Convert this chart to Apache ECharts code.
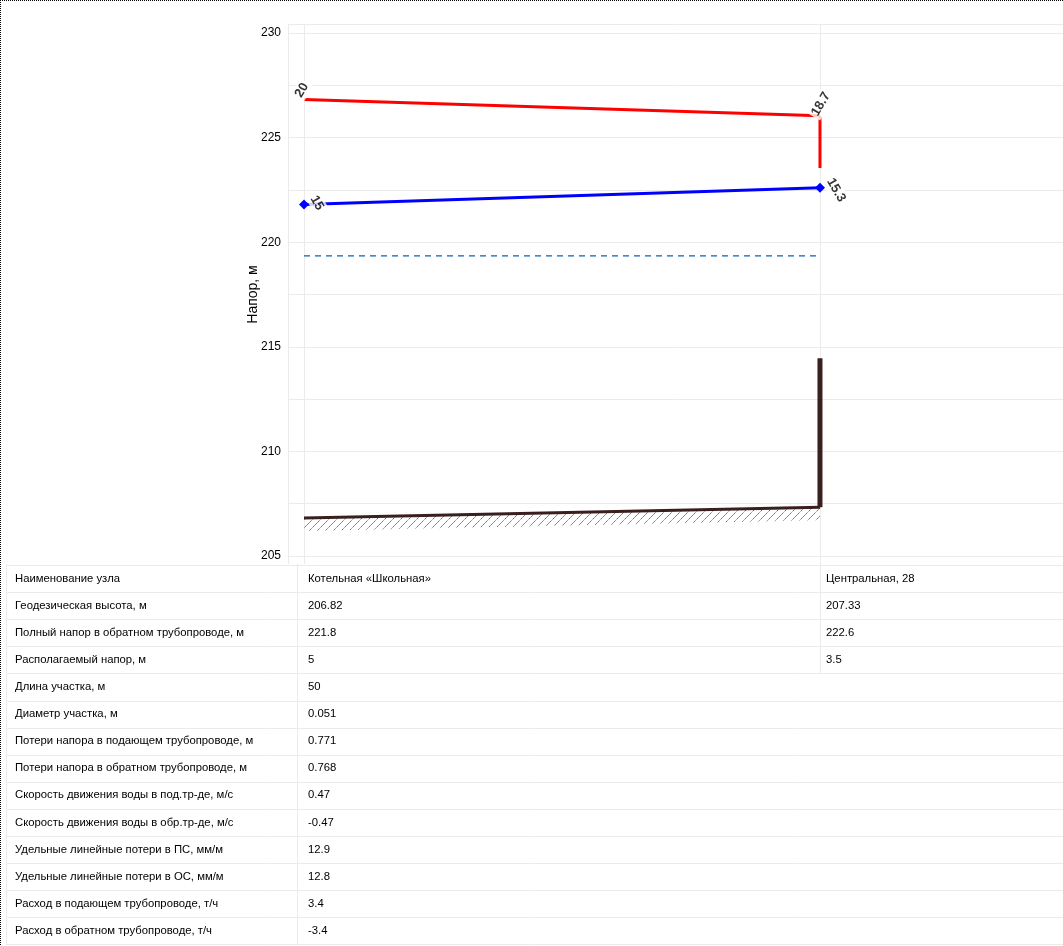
<!DOCTYPE html>
<html><head><meta charset="utf-8">
<script src="https://cdn.jsdelivr.net/npm/echarts@6/dist/echarts.min.js"></script>
<style>html,body{margin:0;padding:0;background:#fff}#c{width:1063px;height:946px}</style>
</head><body><div id="c"></div>
<script>
// ---- data ----
const nodeNames = ['Котельная «Школьная»', 'Центральная, 28'];
const nodeDist = [0, 50];
const supplyHead = [226.82, 226.05];
const returnHead = [221.8, 222.6];
const groundLevel = [206.82, 207.33];
const staticLevel = [219.35, 219.35];
const buildingTop = 214.45;
const availableBottom = 223.55;
const yTickLabels = [205, 210, 215, 220, 225, 230];
const rowLabels = [
  'Наименование узла',
  'Геодезическая высота, м',
  'Полный напор в обратном трубопроводе, м',
  'Располагаемый напор, м',
  'Длина участка, м',
  'Диаметр участка, м',
  'Потери напора в подающем трубопроводе, м',
  'Потери напора в обратном трубопроводе, м',
  'Скорость движения воды в под.тр-де, м/с',
  'Скорость движения воды в обр.тр-де, м/с',
  'Удельные линейные потери в ПС, мм/м',
  'Удельные линейные потери в ОС, мм/м',
  'Расход в подающем трубопроводе, т/ч',
  'Расход в обратном трубопроводе, т/ч'
];
const col1Values = ['Котельная «Школьная»', '206.82', '221.8', '5', '50', '0.051', '0.771', '0.768', '0.47', '-0.47', '12.9', '12.8', '3.4', '-3.4'];
const col2Values = ['Центральная, 28', '207.33', '222.6', '3.5'];

const fmt = v => String(Math.round(v * 10) / 10);
const supplyLabels = supplyHead.map((v, i) => fmt(v - groundLevel[i]));
const returnLabels = returnHead.map((v, i) => fmt(v - groundLevel[i]));

// hatch pattern
const pat = document.createElement('canvas');
pat.width = 8; pat.height = 8;
const pc = pat.getContext('2d');
pc.strokeStyle = '#2a2a2a'; pc.lineWidth = 0.8; pc.setLineDash([2, 1]);
pc.beginPath(); pc.moveTo(-1, 9); pc.lineTo(9, -1); pc.stroke();

const FONT = 'Liberation Sans, Arial, sans-serif';
const GRID = '#ebebeb';
const labelStyle = { show: true, position: 'inside', align: 'center', verticalAlign: 'middle',
  color: '#000', fontSize: 13, fontWeight: 'bold', fontFamily: FONT, backgroundColor: '#fff', padding: [1, 2] };

const chart = echarts.init(document.getElementById('c'), null, { renderer: 'canvas' });
const option = {
  animation: false,
  backgroundColor: '#fff',
  grid: { left: 288, right: 0, top: 33, bottom: 390 },
  xAxis: { type: 'value', min: -1.55, max: 73.55, show: false },
  yAxis: {
    type: 'value', min: 205, max: 230, interval: 2.5,
    name: 'Напор, м', nameLocation: 'middle', nameGap: 28, nameRotate: 90, nameMoveOverlap: false,
    nameTextStyle: { color: '#000', fontSize: 14, fontFamily: FONT },
    axisLine: { show: true, lineStyle: { color: GRID } },
    axisTick: { show: true, length: 5, lineStyle: { color: GRID } },
    axisLabel: { color: '#000', fontSize: 12, fontFamily: FONT, margin: 7,
      formatter: v => (yTickLabels.indexOf(v) >= 0 ? String(v) : '') },
    splitLine: { show: true, lineStyle: { color: GRID, width: 1 } }
  },
  series: [
    { type: 'custom', z: 2,
      data: [[nodeDist[0], groundLevel[0], nodeDist[1], groundLevel[1]]],
      encode: { x: [0, 2], y: [1, 3] },
      renderItem: (params, api) => {
        const p0 = api.coord([api.value(0), api.value(1)]);
        const p1 = api.coord([api.value(2), api.value(3)]);
        const d = 13;
        return { type: 'polygon',
          shape: { points: [p0, p1, [p1[0], p1[1] + d], [p0[0], p0[1] + d]] },
          style: { fill: { image: pat, repeat: 'repeat' } } };
      } },
    { type: 'line', z: 3, symbol: 'none', data: nodeDist.map((x, i) => [x, staticLevel[i]]),
      lineStyle: { color: '#0d5fb8', width: 1.3, type: [6, 5] } },
    { type: 'line', z: 4, symbol: 'none', data: nodeDist.map((x, i) => [x, groundLevel[i]]),
      lineStyle: { color: '#3a1f1f', width: 3 } },
    { type: 'line', z: 4, symbol: 'none', data: [[nodeDist[1], groundLevel[1]], [nodeDist[1], buildingTop]],
      lineStyle: { color: '#3a1f1f', width: 5 } },
    { type: 'line', z: 4, symbol: 'none', data: [[nodeDist[1], supplyHead[1]], [nodeDist[1], availableBottom]],
      lineStyle: { color: '#ff0000', width: 3 } },
    { type: 'line', z: 5, symbol: 'none', data: nodeDist.map((x, i) => [x, supplyHead[i]]),
      lineStyle: { color: '#ff0000', width: 3 } },
    { type: 'line', z: 5, symbol: 'diamond', symbolSize: 10, showSymbol: true,
      data: nodeDist.map((x, i) => [x, returnHead[i]]),
      itemStyle: { color: '#0000ff' }, lineStyle: { color: '#0000ff', width: 3 } },
    { type: 'scatter', z: 10, zlevel: 1, symbolSize: 1, itemStyle: { color: 'rgba(0,0,0,0)' },
      data: [
        { value: [nodeDist[0], supplyHead[0]], label: Object.assign({}, labelStyle, { rotate: 60, offset: [7, -6.5], formatter: supplyLabels[0] }) },
        { value: [nodeDist[1], supplyHead[1]], label: Object.assign({}, labelStyle, { rotate: 60, offset: [10.5, -5], formatter: supplyLabels[1] }) },
        { value: [nodeDist[0], returnHead[0]], label: Object.assign({}, labelStyle, { rotate: -60, offset: [5, -12], formatter: returnLabels[0] }) },
        { value: [nodeDist[1], returnHead[1]], label: Object.assign({}, labelStyle, { rotate: -60, offset: [10, -12.8], formatter: returnLabels[1] }) }
      ] }
  ]
};
chart.setOption(option);

// layout extras: grid extensions, table, border
const px0 = chart.convertToPixel({ xAxisIndex: 0 }, nodeDist[0]);
const px1 = chart.convertToPixel({ xAxisIndex: 0 }, nodeDist[1]);
const gEls = [];
const line = (x1, y1, x2, y2, stroke, extra) => gEls.push(Object.assign({ type: 'line', z: 1, silent: true,
  shape: { x1, y1, x2, y2 }, style: { stroke, lineWidth: 1 } }, extra || {}));
const TOP = 24, TBL = 565, RH = 27.1, NROWS = rowLabels.length;
const tblBottom = TBL + RH * NROWS;
line(288, TOP + 0.5, 1063, TOP + 0.5, GRID);
line(288.5, TOP, 288.5, TBL - 1, GRID);
line(Math.round(px0) + 0.5, TOP, Math.round(px0) + 0.5, TBL - 1, GRID);
line(Math.round(px1) + 0.5, TOP, Math.round(px1) + 0.5, TBL + RH * col2Values.length, GRID);
for (let i = 0; i <= NROWS; i++) {
  const y = Math.round(TBL + i * RH) + 0.5;
  line(6, y, 1063, y, GRID);
}
line(6.5, TBL, 6.5, tblBottom, GRID);
line(297.5, TBL - 1, 297.5, tblBottom, GRID);
const txt = (x, y, s) => gEls.push({ type: 'text', z: 5, silent: true, x, y,
  style: { text: s, fill: '#000', font: '11.3px ' + FONT, textAlign: 'left', textVerticalAlign: 'middle' } });
rowLabels.forEach((s, i) => txt(15, TBL + i * RH + RH / 2, s));
col1Values.forEach((s, i) => txt(308, TBL + i * RH + RH / 2, s));
col2Values.forEach((s, i) => txt(Math.round(px1) + 6, TBL + i * RH + RH / 2, s));
line(0, 0.5, 1063, 0.5, '#000', { style: { stroke: '#000', lineWidth: 1, lineDash: [1, 1] } });
line(0.5, 0, 0.5, 946, '#000', { style: { stroke: '#000', lineWidth: 1, lineDash: [1, 1] } });
chart.setOption({ graphic: { elements: gEls } });
</script>
</body></html>
